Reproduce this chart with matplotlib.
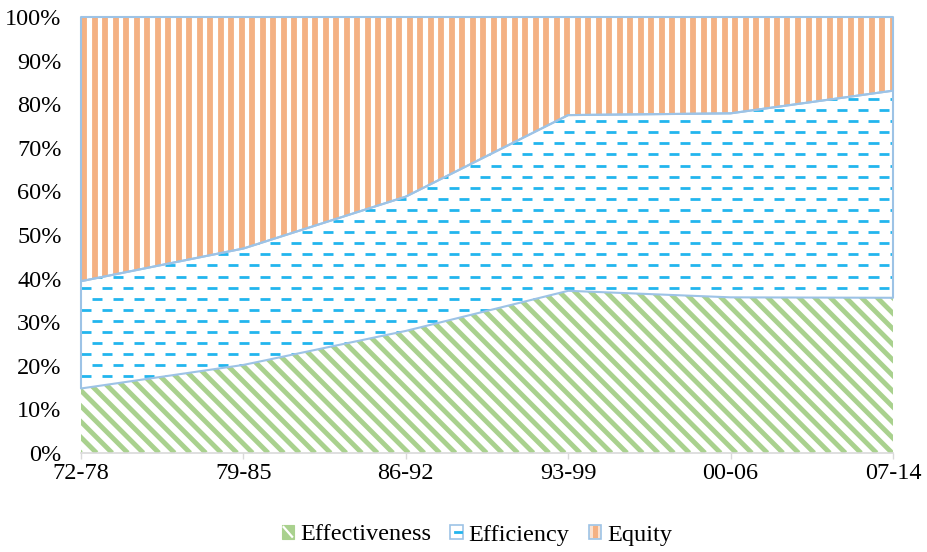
import numpy as np
import matplotlib
matplotlib.use("Agg")
import matplotlib.pyplot as plt
from matplotlib.patches import Polygon, Rectangle, Patch
from matplotlib.collections import LineCollection
from matplotlib.legend_handler import HandlerBase
from matplotlib.lines import Line2D

# ---- data (share of each dimension, %) ----
periods = ["72-78", "79-85", "86-92", "93-99", "00-06", "07-14"]
effectiveness = [14.8, 20.2, 28.0, 37.2, 35.7, 35.6]
efficiency = [24.6, 26.7, 30.8, 40.3, 42.2, 47.5]
equity = [60.6, 53.1, 41.2, 22.5, 22.1, 16.9]
series_names = ["Effectiveness", "Efficiency", "Equity"]
y_ticks = list(range(0, 101, 10))

GREEN = "#A9D18E"
BLUE = "#22B5EE"
ORANGE = "#F4B183"
OUTLINE = "#9DC3E6"
AXIS_GREY = "#D9D9D9"
FS = 17.5

plt.rcParams["font.family"] = ["Liberation Serif", "DejaVu Serif"]

W, H, DPI = 927, 552, 100
fig = plt.figure(figsize=(W / DPI, H / DPI), dpi=DPI)
L, R, B, T = 81, 893, 453, 17
ax = fig.add_axes([L / W, 1 - B / H, (R - L) / W, (B - T) / H])

x = np.arange(len(periods))
ax.set_xlim(0, len(periods) - 1)
ax.set_ylim(0, 100)

# pixel scale of the axes, used to size the fill patterns
bbox = ax.get_window_extent()
px_x = bbox.width / (len(periods) - 1)
px_y = bbox.height / 100.0
w_px, h_px = bbox.width, bbox.height

eff = np.array(effectiveness)
effc = np.array(efficiency)
eq = np.array(equity)
b0 = np.zeros_like(eff)
t0 = b0 + eff
t1 = t0 + effc
t2 = t1 + eq


def band(bottom, top):
    verts = list(zip(x, top)) + list(zip(x[::-1], bottom[::-1]))
    poly = Polygon(verts, closed=True, facecolor="white", edgecolor="none",
                   linewidth=0, zorder=1)
    ax.add_patch(poly)
    return poly


def outline(bottom, top):
    verts = list(zip(x, top)) + list(zip(x[::-1], bottom[::-1]))
    poly = Polygon(verts, closed=True, facecolor="none", edgecolor=OUTLINE,
                   linewidth=1.5, zorder=4, clip_on=False, joinstyle="round")
    ax.add_patch(poly)


p_eff = band(b0, t0)
p_effc = band(t0, t1)
p_eq = band(t1, t2)

# Effectiveness: green stripes running down to the right at 45 degrees
step = 15.6
segs = []
c = -h_px
while c < w_px + h_px:
    segs.append([(c / px_x, 100.0), ((c + h_px) / px_x, 0.0)])
    c += step
lc = LineCollection(segs, colors=GREEN, linewidths=3.5, capstyle="butt", zorder=2)
ax.add_collection(lc)
lc.set_clip_path(p_eff)

# Efficiency: staggered horizontal blue dashes
row_step, dash_len, dash_period = 11.1, 10.0, 21.0
segs = []
k = 0
yp = 10.0
while yp < h_px:
    off = 0.0 if k % 2 == 0 else dash_period / 2
    xp = -dash_period + off
    while xp < w_px + dash_period:
        segs.append([(xp / px_x, yp / px_y), ((xp + dash_len) / px_x, yp / px_y)])
        xp += dash_period
    yp += row_step
    k += 1
lc = LineCollection(segs, colors=BLUE, linewidths=2.0, capstyle="butt", zorder=2)
ax.add_collection(lc)
lc.set_clip_path(p_effc)

# Equity: vertical orange stripes
vstep = 10.5
segs = []
xp = 3.0
while xp < w_px + vstep:
    segs.append([(xp / px_x, 0.0), (xp / px_x, 100.0)])
    xp += vstep
lc = LineCollection(segs, colors=ORANGE, linewidths=4.2, capstyle="butt", zorder=2)
ax.add_collection(lc)
lc.set_clip_path(p_eq)

outline(t0, t1)
outline(t1, t2)

# axes styling
for side in ("top", "right", "left"):
    ax.spines[side].set_visible(False)
ax.spines["bottom"].set_color(AXIS_GREY)
ax.spines["bottom"].set_linewidth(1.2)
ax.spines["bottom"].set_zorder(5)

ax.set_xticks(x)
ax.set_xticklabels(periods)
ax.set_yticks(y_ticks)
ax.set_yticklabels([f"{v}%" for v in y_ticks])
ax.tick_params(axis="x", length=4, width=1, color=AXIS_GREY, pad=3.5, labelsize=FS)
ax.tick_params(axis="y", length=0, pad=14, labelsize=FS)


class SwatchHandler(HandlerBase):
    def __init__(self, kind):
        super().__init__()
        self.kind = kind

    def create_artists(self, legend, orig_handle, xdescent, ydescent,
                       width, height, fontsize, trans):
        x0, y0 = -xdescent, -ydescent
        arts = []
        if self.kind == "Effectiveness":
            arts.append(Rectangle((x0, y0), width, height, facecolor=GREEN,
                                  edgecolor=GREEN, linewidth=0.8, transform=trans))
            arts.append(Line2D([x0 + 0.15 * width, x0 + 0.85 * width],
                               [y0 + 0.85 * height, y0 + 0.15 * height],
                               color="white", linewidth=1.6, transform=trans))
        elif self.kind == "Efficiency":
            arts.append(Rectangle((x0, y0), width, height, facecolor="white",
                                  edgecolor=OUTLINE, linewidth=1.2, transform=trans))
            arts.append(Line2D([x0 + 0.4 * width, x0 + 0.9 * width],
                               [y0 + 0.5 * height, y0 + 0.5 * height],
                               color=BLUE, linewidth=2.0, transform=trans))
        else:
            arts.append(Rectangle((x0, y0), width, height, facecolor="#FBE1CF",
                                  edgecolor=OUTLINE, linewidth=1.2, transform=trans))
            arts.append(Rectangle((x0 + 0.3 * width, y0 + 0.08 * height),
                                  0.4 * width, 0.84 * height, facecolor=ORANGE,
                                  edgecolor="none", transform=trans))
        return arts


handles = [Patch(label=n) for n in series_names]
hmap = {h: SwatchHandler(n) for h, n in zip(handles, series_names)}
fig.legend(handles, series_names, handler_map=hmap, loc="center",
           bbox_to_anchor=(477 / W, 1 - 535 / H), bbox_transform=fig.transFigure,
           ncol=3, frameon=False, fontsize=FS, handlelength=0.5,
           handleheight=0.5, handletextpad=0.25, columnspacing=0.8)

fig.savefig("out.png", dpi=DPI)
